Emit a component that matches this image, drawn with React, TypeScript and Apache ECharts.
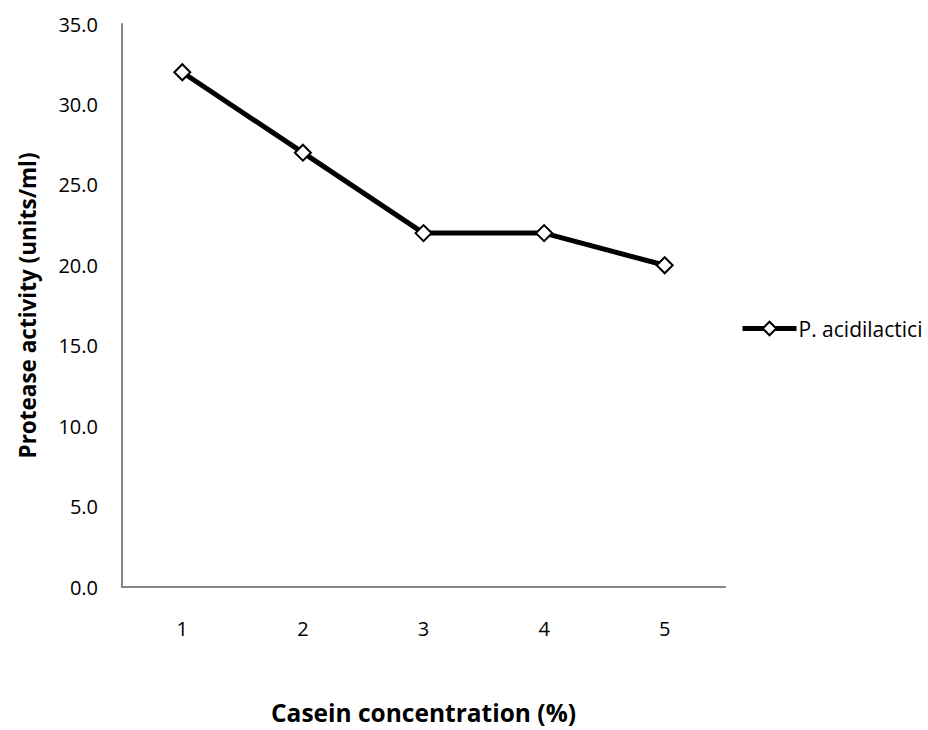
import React, { useEffect, useRef } from "react";
import * as echarts from "echarts";

const categories = ["1", "2", "3", "4", "5"];
const activity = [32, 27, 22, 22, 20];
const seriesName = "P. acidilactici";
const xTitle = "Casein concentration (%)";
const yTitle = "Protease activity (units/ml)";

export default function App() {
  const ref = useRef<HTMLDivElement>(null);
  useEffect(() => {
    if (!ref.current) return;
    document.body.style.margin = "0";
    const chart = echarts.init(ref.current, null, { renderer: "svg" });
    const font = "Open Sans";
    const diamond = "path://M-1,0L0,-1L1,0L0,1Z";
    chart.setOption({
      animation: false,
      backgroundColor: "#ffffff",
      grid: { left: 122, top: 24, right: 203, bottom: 140, containLabel: false },
      legend: {
        data: [seriesName],
        left: 735,
        top: 313,
        itemWidth: 54,
        itemHeight: 17,
        lineStyle: { width: 5, color: "#000" },
        itemStyle: { color: "#fff", borderColor: "#000", borderWidth: 2 },
        textStyle: { fontFamily: font, fontSize: 21, color: "#000", padding: [0, 0, 0, -3] },
      },
      xAxis: {
        type: "category",
        data: categories,
        boundaryGap: true,
        name: xTitle,
        nameLocation: "middle",
        nameGap: 113,
        nameTextStyle: { fontFamily: font, fontSize: 24.5, fontWeight: "bold", color: "#000" },
        axisLine: { lineStyle: { color: "#868686", width: 2 } },
        axisTick: { show: false },
        axisLabel: { fontFamily: font, fontSize: 20, color: "#000", margin: 31 },
      },
      yAxis: {
        type: "value",
        min: 0,
        max: 35,
        interval: 5,
        name: yTitle,
        nameLocation: "middle",
        nameGap: 83,
        nameTextStyle: { fontFamily: font, fontSize: 22.5, fontWeight: "bold", color: "#000" },
        axisLine: { show: true, lineStyle: { color: "#868686", width: 2 } },
        axisTick: { show: false },
        splitLine: { show: false },
        axisLabel: {
          fontFamily: font,
          fontSize: 20,
          color: "#000",
          margin: 24,
          formatter: (v: number) => v.toFixed(1),
        },
      },
      series: [
        {
          name: seriesName,
          type: "line",
          data: activity,
          symbol: diamond,
          symbolSize: 16,
          lineStyle: { color: "#000", width: 5 },
          itemStyle: { color: "#fff", borderColor: "#000", borderWidth: 2 },
        },
      ],
    });
    return () => chart.dispose();
  }, []);
  return <div ref={ref} style={{ width: 928, height: 730 }} />;
}
